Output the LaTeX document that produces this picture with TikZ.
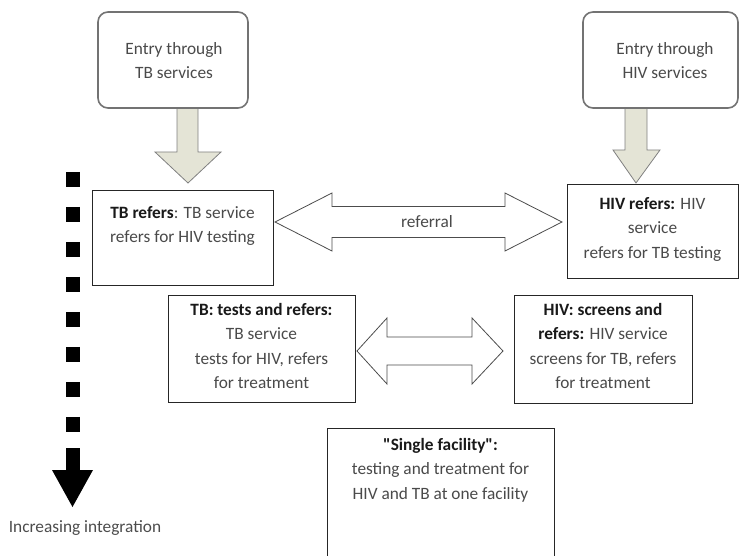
\documentclass[tikz,border=0pt]{standalone}
\usepackage{fontspec}
\setmainfont{Carlito}[Ligatures=TeXOff]
\definecolor{bdfill}{HTML}{E4E4D6}
\definecolor{txtgray}{HTML}{4A4A4A}
\newcommand\bt[1]{\textbf{\color{black!90}#1}}
\begin{document}
\begin{tikzpicture}[x=1pt,y=-1pt,
  txt/.style={font=\fontsize{17.3}{24.5}\selectfont, text=txtgray, align=center, inner sep=0pt, anchor=north},
  box/.style={draw=black!85, line width=0.9pt, inner sep=0pt, fill=white},
  entry/.style={draw=black!55, line width=1.6pt, rounded corners=10pt, inner sep=0pt, fill=white},
  blockfill/.style={fill=bdfill},
  blockline/.style={draw=black!50, line width=0.8pt, line join=miter},
  dbl/.style={draw=black!70, fill=white, line width=0.8pt, line join=miter}]
\useasboundingbox (0,0) rectangle (740,556);

% down block arrows (behind boxes)
\fill[blockfill] (177,108) -- (177,152) -- (155,152) -- (188,183) -- (221,152) -- (198,152) -- (198,108) -- cycle;
\draw[blockline] (177,108) -- (177,152) -- (155,152) -- (188,183) -- (221,152) -- (198,152) -- (198,108);
\fill[blockfill] (625,108) -- (625,150) -- (613,150) -- (636,183) -- (660,150) -- (647,150) -- (647,108) -- cycle;
\draw[blockline] (625,108) -- (625,150) -- (613,150) -- (636,183) -- (660,150) -- (647,150) -- (647,108);

% entry boxes
\node[entry, minimum width=150pt, minimum height=96pt] (tbe) at (173,60) {};
\node[entry, minimum width=155pt, minimum height=96pt] (hive) at (660.5,60) {};
\node[txt] at (174,42) {Entry through\\TB services};
\node[txt] at (665,42) {Entry through\\HIV services};

% level boxes
\node[box, minimum width=181pt, minimum height=95pt] (tbr) at (182.5,237.5) {};
\node[box, minimum width=171pt, minimum height=94pt] (hivr) at (652.5,231) {};
\node[box, minimum width=187pt, minimum height=107pt] (tbt) at (261.5,348.5) {};
\node[box, minimum width=178pt, minimum height=108pt] (hivs) at (603,349) {};
\node[box, minimum width=227pt, minimum height=140pt] (sf) at (440.5,498) {};

\node[txt] at (182.5,206) {\bt{TB refers}: TB service\\refers for HIV testing};
\node[txt] at (652.5,197) {\bt{HIV refers:} HIV\\service\\refers for TB testing};
\node[txt] at (261.5,303) {\bt{TB: tests and refers:}\\TB service\\tests for HIV, refers\\for treatment};
\node[txt] at (603,303) {\bt{HIV: screens and}\\\bt{refers:} HIV service\\screens for TB, refers\\for treatment};
\node[txt] at (440.5,438) {\bt{"Single facility":}\\testing and treatment for\\HIV and TB at one facility};

% double arrows
\draw[dbl] (275,222) -- (332,193) -- (332,206.5) -- (505,206.5) -- (505,193) -- (562,222)
  -- (505,251) -- (505,237.5) -- (332,237.5) -- (332,251) -- cycle;
\node[txt, anchor=center] (ref) at (427,222) {referral};
\draw[dbl] (357,351) -- (387,318) -- (387,337) -- (472,337) -- (472,318) -- (503,351)
  -- (472,384) -- (472,365) -- (387,365) -- (387,384) -- cycle;

% increasing integration arrow
\coordinate (itop) at (72.5,172);
\coordinate (ibot) at (72.5,432);
\draw[line width=14pt, dash pattern=on 15pt off 20pt] (itop) -- (ibot);
\fill (65.5,448) rectangle (79.5,471);
\fill (52,470) -- (93,470) -- (72.5,507) -- cycle;
\node[txt, anchor=center, text=black!70] (inc) at (85,528) {Increasing integration};
\end{tikzpicture}
\end{document}
